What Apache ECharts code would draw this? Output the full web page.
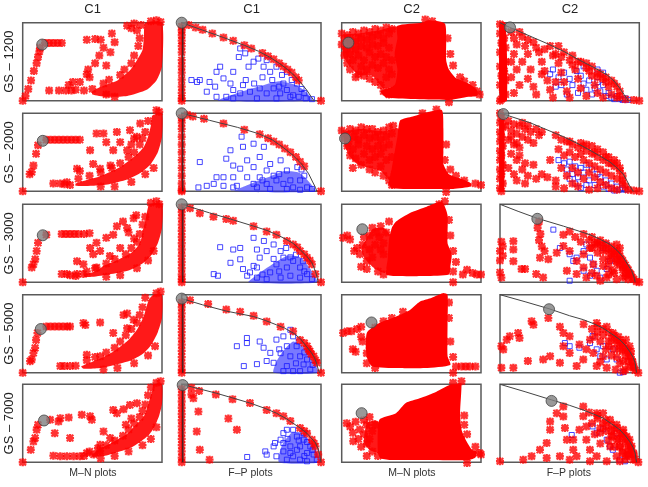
<!DOCTYPE html>
<html>
<head>
<meta charset="utf-8">
<script src="https://cdn.jsdelivr.net/npm/echarts@6/dist/echarts.min.js"></script>
<style>html,body{margin:0;background:#fff}#chart{width:648px;height:487px}</style>
</head>
<body>
<div id="chart"></div>
<script>
'use strict';

var colTitles = ['C1', 'C1', 'C2', 'C2'];
var plotNames = ['M\u2013N plots', 'F\u2013P plots', 'M\u2013N plots', 'F\u2013P plots'];
var rowNames = ['GS \u2013 1200', 'GS \u2013 2000', 'GS \u2013 3000', 'GS \u2013 5000', 'GS \u2013 7000'];

/****** grey markers, one per panel (M-N C1, F-P C1, M-N C2, F-P C2) ******/
var dots1 = [[14, 72], [0, 100], [4.8, 74.4], [7.2, 94]];
var dots2 = [[14.4, 64.7], [0, 100], [2.4, 67.7], [2.4, 99]];
var dots3 = [[14.4, 60.3], [0, 100], [14.8, 68], [26.8, 81.4]];
var dots4 = [[13, 56], [0, 95], [21.4, 64.4], [35.2, 81.4]];
var dots5 = [[15.3, 53.6], [0.7, 99], [14.3, 63], [37, 78.7]];

/****** row 1 : GS 1200 ******/
var mnC1Red1 = [[0,0],[2,6],[4,15],[6,26],[8,38],[10,48],[11,56],[12,63],[12.5,68],[16,74],[19,74],[22,74],[25,74],[28,74],
  [19,13],[26,13],[31,13],[35,13],[38,14],[33,20],[41,24],[46,34],[48,30],[47,40],[52,48],[55,58],[58,68],[56,78],[46,78],
  [52,79],[64,86],[66,75],[63,62],[60,45],[36,24],[44,13],[50,15],[58,22],[62,27],[70,33],[73,40],[78,48],[80,58],[83,70],
  [84,80],[82,90],[78,93],[75,96],[80,99],[92,102],[85,97],[60,8],[66,5],[96,103],[99,101]];
var mnC1Core1 = [[50,12],[56,18],[68,26],[77,39],[82,52],[86,65],[87,82],[88,100],[100,100],[100,44],[96,26],[89,14],[75,6],[60,5],[50,8]];
var fpC1Curve1 = [[0,100],[15,90.5],[30,81],[45,71],[55,63.5],[63,56],[70,48],[76,40],[81,32],[86,22],[90,13],[93,5],[95,0]];
var fpC1Red1 = [[5,97],[10,94],[15,91],[22,86],[30,81],[37,77],[45,71],[50,67],[58,61],[62,57],[66,53],[70,48],[73,44],[76,40],
  [79,36],[82,30],[84,26],[100,0],[0,95],[0,90],[0,84],[0,77],[0,70],[0,62],[0,52],[0,44],[0,36],[0,27],[0,18],[0,10],[0,3],[0,0]];
var fpC1Blue1 = [[7,26.5],[11,24],[13,26.5],[20,24],[25,37],[27.6,43.6],[24,18],[30,28.6],[35,22],[37,37],[41,56],[42,67],
  [45.6,60.7],[48,43.6],[51.6,50],[55,54],[58.8,43.6],[61,52],[63.5,37],[68,43.6],[72,33],[75.5,37],[79,26.5],[82.7,22],
  [37,13.7],[42,9.4],[49,11.5],[56,15.8],[61,9.4],[66,15.8],[70.7,9.4],[75.5,13.7],[80,7],[84,5],[89,3],[93.5,2],[25,5],
  [32,5],[18,11.5],[52,22],[46,26.5],[65,26.5],[73,22],[78,5],[54,3],[68,3],[37,3],[86,15],[88,10],[44,20],[58,30],[70,18]];
var fpC1Core1 = [[26,0],[40,10],[55,18],[70,25],[82,20],[90,10],[94,0]];
var mnC2Red1 = [[0,86],[2,80],[4,84],[8,88],[12,86],[16,90],[20,88],[24,92],[28,90],[32,94],[36,92],[6,78],[10,76],[14,80],
  [18,78],[22,82],[26,84],[30,80],[34,86],[0,72],[3,66],[6,70],[10,66],[14,70],[18,68],[22,72],[26,70],[30,74],[34,68],[2,58],
  [6,60],[12,58],[16,52],[20,62],[24,56],[28,60],[32,56],[36,52],[4,48],[8,52],[14,44],[18,40],[22,46],[26,42],[30,48],[34,40],
  [10,30],[16,32],[20,28],[24,24],[28,20],[32,30],[36,34],[30,12],[34,8],[12,34],[6,40],[76,80],[78,60],[80,45],[85,30],
  [88,25],[94,20],[97,12],[99,8],[77,-2],[60,104],[65,102]];
var mnC2Core1 = [[40,96],[58,100],[62,103],[74,99],[75,78],[75,52],[77,40],[82,29],[91,22],[97,14],[97,6],[91,5],[77,1],[32,4],[28,12],[38,20],[40,40],[38,60],[40,80]];
var mnC2Left1 = [[2,84],[12,86],[26,90],[41,94],[41,22],[30,16],[22,32],[12,33],[5,46],[1,58]];
var fpC2Curve1 = [[0,100],[7,94],[20,84],[33.5,73.5],[46,63],[57,52],[67,43],[77,33],[82,25],[86,16],[89,8],[91,3],[92,0]];
var fpC2Strip1 = [[0,100],[4,100],[5,0],[0,0]];
var fpC2Red1 = [[0,98],[2,92],[0,86],[3,80],[1,74],[4,68],[0,62],[2,56],[4,50],[0,44],[3,38],[1,32],[4,26],[0,20],[2,14],[4,8],
  [1,2],[0,0],[8,88],[10,80],[12,72],[10,60],[8,50],[12,40],[8,30],[14,20],[10,10],[16,82],[18,70],[20,60],[16,50],[22,40],
  [20,28],[24,18],[26,8],[24,75],[28,62],[30,50],[32,38],[34,26],[36,14],[38,4],[36,70],[40,60],[42,48],[44,36],[46,24],
  [48,12],[50,4],[46,62],[50,52],[54,40],[56,28],[58,16],[62,6],[58,50],[62,42],[66,32],[68,20],[70,10],[74,4],[66,44],
  [70,36],[74,28],[78,18],[80,8],[84,4],[90,2],[96,1],[100,0],[72,34],[76,30],[80,26],[84,18],[86,12],[42,70],[52,58],[62,48],
  [14,88],[20,78],[26,68],[32,66],[38,58],[44,56],[52,46],[56,50],[64,38],[70,30],[76,24],[82,22],[86,6],[30,34],[40,24]];
var fpC2Edge1 = [];
var fpC2Blue1 = [[38,40],[42,30],[46,36],[50,28],[52,20],[55,38],[58,32],[60,22],[62,14],[64,26],[66,8],[68,16],[70,24],
  [72,12],[74,20],[76,6],[78,10],[80,4],[82,2],[84,6],[86,2],[88,1],[90,3],[92,1],[70,40],[74,36],[60,44],[44,20],[48,8],
  [56,10],[36,34],[40,18]];

/****** row 2 : GS 2000 ******/
var mnC1Red2 = [[0,0],[6.5,24.6],[7.7,33],[9.6,48],[11,59],[17,66],[20,66],[23,66],[26,66],[29,66],[32,66],[35,66],[38,66],
  [41,66],[22,10],[27,10],[31.7,11.6],[39,29],[41,26],[48.4,52.6],[50.6,35],[53,74],[58,74],[60,63],[67.6,76],[70,63],
  [65,52.6],[75,52.6],[55.6,29],[63,33],[77,78.4],[84.4,87],[80,67.7],[30,9],[34,8],[40,16],[48,20],[56,24],[64,30],[70,36],
  [76,44],[80,50],[84,60],[86,68],[88,76],[90,90],[96,104],[98,102],[56,6],[66,6],[78,12],[88,22],[94,30],[82,70],[78,60],[5,22]];
var mnC1Core2 = [[38,10],[45,14],[55,19],[63,25],[70,31],[77,40],[83,49],[87,57],[90,70],[92,84],[93,97],[100,100],[100,70],[97,50],[92,35],[85,24],[75,15],[62,9],[50,7],[38,7]];
var fpC1Curve2 = [[0,100],[20,91],[40,82],[55,74],[65,66],[73,56],[80,46],[86,35],[91,23],[94,12],[96,5],[97,0]];
var fpC1Red2 = [[4,98],[8,96],[16,93],[30,87],[45,79],[56,73],[62,68],[66,64],[70,60],[74,55],[78,50],[82,44],[85,38],[88,32],
  [100,0],[0,94],[0,88],[0,80],[0,70],[0,60],[0,50],[0,40],[0,30],[0,20],[0,10],[0,2],[0,0]];
var fpC1Blue2 = [[13,37.5],[12,5],[18,7],[23,9.5],[32,41.8],[35,52.6],[37,18],[37,5],[44,57],[47,18],[51.6,61],[51.6,31],
  [54,5],[56,44],[59,57],[61,26.7],[63.5,35],[68,14],[71,39.7],[75.5,26.7],[78,14],[80,5],[83,31],[85,14],[90,5],[93.5,3],
  [43,70],[37,33],[25,18],[30,7],[39.6,7],[51.6,9.5],[61,9.5],[66,20],[73,9.5],[75.5,3],[85,2],[63.5,3],[56,18],[47,39.7],
  [42,29],[30,18],[88,20],[86,28],[70,22],[58,14]];
var fpC1Core2 = [[38,0],[50,10],[62,18],[74,26],[84,24],[91,13],[96,0]];
var mnC2Red2 = [[0,78],[3,74],[6,80],[10,78],[14,82],[18,80],[22,80],[26,76],[30,78],[34,82],[37,84],[2,68],[5,64],[9,70],
  [12,66],[16,72],[20,68],[24,70],[28,66],[32,70],[36,74],[4,58],[8,54],[12,60],[18,58],[22,54],[26,58],[30,56],[34,60],
  [6,46],[10,42],[16,48],[20,40],[24,44],[28,48],[32,40],[36,44],[8,30],[14,34],[20,28],[24,24],[28,32],[30,20],[34,14],
  [36,8],[38,22],[75,60],[74,40],[78,28],[82,20],[88,14],[96,10],[100,8],[75,-1],[68,105],[58,100]];
var mnC2Core2 = [[40,70],[42,91],[51,96],[63,102],[72,104],[73,80],[73,50],[73,35],[77,22],[86,16],[93,10],[93,6],[80,3],[60,3],[36,4],[34,10],[36,30],[38,50]];
var mnC2Left2 = [[2,76],[14,80],[30,77],[41,80],[41,30],[36,12],[28,26],[20,30],[12,34],[6,44],[2,60]];
var fpC2Curve2 = [[0,100],[2.4,99],[21.5,88],[45.5,70],[56,61],[64.6,52.6],[72,45],[79,37.5],[84,30],[88.5,22],[91,14],[93,7],[95.7,0]];
var fpC2Strip2 = [[0,100],[3,100],[3,0],[0,0]];
var fpC2Red2 = [[0,100],[1,94],[0,88],[2,82],[0,76],[1,70],[0,64],[2,58],[0,52],[1,46],[0,40],[2,34],[0,28],[1,22],[0,16],
  [2,10],[0,4],[1,0],[6,90],[10,86],[14,84],[18,80],[8,78],[12,74],[16,70],[20,66],[6,66],[10,60],[14,56],[22,76],[24,62],
  [28,72],[8,48],[12,40],[6,30],[16,28],[20,20],[26,16],[30,22],[34,18],[24,34],[12,14],[18,10],[40,72],[44,66],[48,64],
  [52,60],[56,56],[60,58],[42,54],[46,46],[50,50],[54,44],[58,48],[62,52],[66,48],[70,44],[74,40],[78,36],[82,32],[86,26],
  [88,20],[60,40],[64,36],[68,32],[72,28],[76,24],[80,20],[84,16],[88,10],[90,6],[64,24],[68,18],[72,12],[76,8],[80,4],
  [84,2],[92,2],[96,1],[100,0],[52,30],[56,24],[60,16],[44,30],[48,20],[52,10],[40,14],[36,40],[50,64],[58,62],[66,58],
  [70,54],[74,50],[78,44],[82,40],[84,36],[40,6],[56,6],[64,2],[70,4],[46,4],[4,84],[8,70],[12,62],[16,88],[20,84],[26,80],
  [30,76],[14,46],[18,36],[10,22],[62,60],[68,50],[76,44],[80,36],[86,30],[88,14]];
var fpC2Edge2 = [];
var fpC2Blue2 = [[42,40],[46,36],[50,38],[54,32],[58,30],[62,34],[66,28],[70,22],[60,24],[56,18],[64,14],[68,8],[72,18],
  [76,14],[80,10],[84,6],[88,4],[90,2],[86,2],[82,1],[78,3],[74,6],[50,16],[54,10],[58,4],[62,8],[48,28],[52,22]];

/****** row 3 : GS 3000 ******/
var mnC1Red3 = [[0,0],[6.5,19],[7.7,23],[9,29.5],[10,40],[11,50.6],[17,61],[28,62],[31,62],[34,62],[37,62],[40,62],[44,62],
  [48,63],[28,10.5],[31.6,10.5],[39,10.5],[43.6,10.5],[39,27],[48.4,44],[50.6,36],[53,50.6],[55.6,40],[60,57],[65,61],
  [67.6,71.7],[72,78],[79.6,82],[75,69.6],[81.5,86],[43.6,23],[62.6,33.8],[53,19],[34,9],[38,8],[46,14],[52,18],[60,24],
  [66,30],[74,36],[78,44],[82,52],[84,62],[86,74],[88,84],[92,102],[96,104],[98,100],[60,7],[70,9],[82,18],[90,28],[94,40],
  [80,56],[76,64],[70,44]];
var mnC1Core3 = [[44,10],[52,14],[58,21],[65,26],[72,32],[78,38],[82,45],[85,55],[86,65],[88,78],[89,88],[91,100],[100,100],[100,70],[97,50],[92,34],[86,24],[76,15],[62,10],[50,7],[44,7]];
var fpC1Curve3 = [[0,100],[20,89],[37,80],[51.6,72],[62,66],[73,57],[80,50],[85,42],[90,33],[93.5,25],[96,14],[97,8],[98,0]];
var fpC1Red3 = [[6,95],[13,88.6],[22.8,84],[32,81],[37,79],[51.6,71.7],[61,65],[68,61],[75.5,53],[80,48.5],[85,40],[90,31.6],
  [93.5,23],[96,10.5],[0,96],[0,90],[0,82],[0,74],[0,66],[0,58],[0,50],[0,42],[0,34],[0,26],[0,18],[0,10],[0,4],[0,0],[100,0],
  [83,45],[88,36],[92,28]];
var fpC1Blue3 = [[27.6,45],[37,42],[42,44],[35,25],[42,29.5],[51.6,57],[54,42],[56,31.6],[51.6,21],[44,17],[23,10.5],[26,8.4],
  [59,53],[61,40],[66,48.5],[71,40],[73,31.6],[68,23],[63.5,12.7],[75.5,19],[80,27.4],[85,19],[90,10.5],[93.5,4],[78,8.4],
  [71,6],[61,4],[54,6],[47,8.4],[85,6],[82,35.4],[87,27],[75,44],[54,19],[49,12.7],[66,30],[78,32],[88,14],[58,10],[70,14]];
var fpC1Core3 = [[48,0],[56,12],[66,24],[76,34],[85,32],[92,18],[97,0]];
var mnC2Red3 = [[1,57],[4,60],[6,55],[9,40],[11,44],[15,48],[18,27],[14,20],[22,70],[20,60],[25,64],[27,58],[24,48],[28,42],
  [30,36],[20,42],[13,36],[30,10],[26,14],[18,17],[22,32],[30,50],[32,64],[28,72],[34,78],[16,58],[77,80],[78,60],[80,40],
  [82,26],[80,14],[87,10],[90,16],[94,12],[97,10],[100,10],[80,0],[74,104],[70,100]];
var mnC2Core3 = [[34,55],[36,70],[39,78],[49,89],[61,97],[72,103],[76,86],[76,50],[79,36],[78,20],[77,10],[60,8],[40,8],[32,10],[33,30]];
var mnC2Left3 = [[18,56],[22,68],[30,70],[35,60],[34,30],[31,12],[22,20],[16,32],[14,44]];
var fpC2Curve3 = [[0,100],[13,91],[26.8,82],[45.5,72],[56,66],[64.6,61],[72,55],[79,48.5],[84,41],[88.5,32],[92,22],[94.5,15],[96.5,5],[97,0]];
var fpC2Strip3 = [];
var fpC2Red3 = [[1,52],[2,46],[0,40],[2,34],[0,28],[9.6,52.7],[9.6,42],[9.6,27],[0,12.7],[1,6],[15.5,17],[18,17],[28,78],[27,70],
  [29,62],[28,54],[30,46],[32,40],[28.7,31.6],[26,10.5],[31,6],[34.7,29.5],[40.7,38],[45.5,61],[50,65],[45.5,46.4],[50,40],
  [48,14.8],[55,27.4],[60,36],[64.6,44],[69.4,48.5],[74,40],[79,36],[83.7,27.4],[88.5,19],[93,10.5],[98,1],[55,10.5],[62,6],
  [69.4,8.4],[76.6,6],[83.7,4],[88.5,6],[60,19],[67,23],[74,21],[81,14.8],[83.7,48.5],[60,62],[66,58],[72,54],[76,50],[80,46],
  [84,40],[86,34],[88,28],[90,22],[92,16],[94,10],[96,4],[100,0],[86,44],[82,36],[78,28],[90,12]];
var fpC2Edge3 = [[70,52],[74,48],[78,44],[82,40],[85,36],[87,30],[89,24],[91,18],[93,12],[95,6],[80,38],[84,30],[86,22],[88,16],
  [90,8],[76,42],[72,46],[68,50],[64,54],[92,4],[80,30],[84,24],[82,12],[78,20],[74,30],[70,38],[66,44],[58,52],[54,58],[66,12],[72,2],[78,10]];
var fpC2Blue3 = [[38.3,67.5],[43,44],[50,36],[55,31.6],[52.6,27.4],[60,40],[62,48.5],[64.6,31.6],[67,23],[69.4,14.8],[74,44],
  [76.6,48.5],[79,27.4],[76.6,17],[60,14.8],[64.6,8.4],[50,2],[72,6]];

/****** row 4 : GS 5000 ******/
var mnC1Red4 = [[0,0],[5.3,14.8],[6.5,17],[7.7,25.4],[8.9,31.8],[9.6,42],[10.6,50.8],[17,59.3],[20,59.3],[23,59.3],[26,59.3],
  [29,59.3],[32,59.3],[34,59.3],[43.6,63.6],[45,61],[55.6,64.4],[27,8.5],[30,8.5],[34,8.5],[38,9],[72.4,74],[75,76],[79.6,68],
  [65,51],[75,57],[55.6,21],[46,23],[46,16],[52,20],[60,26],[66,32],[70,40],[74,48],[78,56],[82,64],[84,74],[86,84],[88,96],
  [96,102],[99,104],[58,4],[68,6],[80,12],[90,22],[95,34]];
var mnC1Core4 = [[42,8],[50,14],[58,20],[66,28],[72,36],[77,44],[82,55],[85,65],[87,73],[89,85],[91,95],[94,100],[100,100],[100,70],[97,52],[92,35],[86,24],[78,16],[66,10],[55,6],[44,5]];
var fpC1Curve4 = [[0,95],[15,87],[32,79],[51.6,72],[60,67],[68,61.4],[74,57],[80,51],[85,44],[89.4,34],[93,26],[95.4,19],[97,11],[98,4],[99,0]];
var fpC1Red4 = [[6,93],[19,88],[32,81],[42,78],[51.6,73],[61,65.7],[71,59],[80,53],[85,42],[90,34],[92,27.5],[94.7,21],[97,12.7],
  [100,0],[88,38],[91,30],[93,24],[96,16],[0,90],[0,84],[0,76],[0,68],[0,60],[0,52],[0,44],[0,36],[0,28],[0,20],[0,12],[0,4],[0,0]];
var fpC1Blue4 = [[39.6,34],[46.8,44.5],[46.8,38],[56,40],[58.8,32],[63.6,25.4],[61,15],[54,11],[44.6,8.5],[68,42.4],[73,46.6],
  [75.5,34],[78,21],[80,46.6],[75.5,8.5],[85,21],[87.5,10.6],[92.3,4.2],[85,2],[80,2],[73,2],[82.5,34],[90,17],[78,55],[71,25],
  [66,12.7],[84,40],[88,26],[94,10],[70,30],[82,12]];
var fpC1Core4 = [[66,0],[68,14],[73,28],[80,40],[87,34],[94,16],[98,0]];
var mnC2Red4 = [[1,51],[4,53],[7,53],[11,56],[14,59],[8,30],[10,27],[15,40],[18,25],[20,32],[14,46],[24,58],[30,66],[36,70],
  [44,78],[77,90],[77,70],[78,40],[80,20],[82,8],[86,8],[89,8],[92,8],[96,8],[80,0],[18,12],[24,6]];
var mnC2Core4 = [[18,20],[18,51],[27,63.6],[39,72],[49,80.5],[56,91],[63,95],[72.6,102],[76,100],[76,63],[76,21],[78,10],[60,6],[40,6],[22,8]];
var mnC2Left4 = [];
var fpC2Curve4 = [[0,100],[18,91],[35.2,82],[50,73],[59.8,68],[67,63],[74,57],[80,50],[86,42.4],[90,35],[93,27.5],[95.5,20],[97,12.7],[98,0]];
var fpC2Strip4 = [];
var fpC2Red4 = [[1,34],[2.4,29.7],[1,6.4],[4.8,42.4],[7,46.6],[13,51],[14,44.5],[20,15],[9.6,6.4],[22.7,66],[24,61.4],[34.7,70],
  [31,17],[36,21],[43,59],[45.5,51],[45.5,34],[43,12.7],[50,46.6],[50,25.4],[55,8.5],[59.8,17],[57,36],[64.6,42.4],[67,25.4],
  [69.4,8.5],[74,21],[78.5,34],[83,42.4],[86,29.7],[88.5,15],[93,21],[95.7,6.4],[99.3,0],[76.6,6.4],[83,4],[88.5,2],[81,51],
  [76.6,59],[69.4,63.6],[93,34],[90.4,42.4],[94,27.5],[85,46],[88,38],[91,30],[95,14],[62,30],[72,14],[80,22]];
var fpC2Edge4 = [[70,60],[74,56],[78,52],[82,48],[86,42],[88,38],[90,32],[92,26],[94,20],[95,14],[96,8],[97,3],[80,44],[84,38],
  [86,34],[88,28],[90,22],[92,14],[93,8],[82,30],[84,20],[86,12],[90,4],[78,40],[74,48],[70,52],[66,56],[60,62],[76,30],[72,40],[68,46]];
var fpC2Blue4 = [[46.6,38],[50,34],[57,32],[66.5,47],[69.4,30],[74,34],[76.6,17],[81,30],[83.7,17],[86,0],[88.5,1],[64.6,38],[72,21]];

/****** row 5 : GS 7000 ******/
var mnC1Red5 = [[0,0],[5.8,16],[7.7,26.8],[8.9,31],[10,41.7],[11,48],[19.7,54.5],[25.7,52.3],[27,56.6],[33,57.4],[42.4,61],
  [48.4,59],[49.6,54.5],[23,37.4],[34,31],[58,39.6],[65,67],[72.4,68],[67.6,63],[77,73.6],[82,75.7],[55.6,22.6],[62.8,31],
  [22,8.5],[27,7.7],[31.7,7.7],[36.5,7.7],[41,7.7],[46,12],[51,10],[55.6,14.5],[44,8],[48,14],[54,18],[60,22],[66,28],
  [72,34],[76,42],[80,50],[84,58],[86,66],[88,74],[90,86],[92,96],[96,102],[99,104],[56,5],[66,8],[76,14],[86,22],[92,30],
  [96,45],[78,56],[74,48]];
var mnC1Core5 = [[50,10],[56,18],[63,24],[70,31],[76,38],[80,46],[84,53],[87,59],[89,68],[91,80],[93,92],[94,100],[100,100],[100,75],[98,60],[95,47],[91,36],[85,27],[78,19],[68,13],[58,8],[50,7]];
var fpC1Curve5 = [[0,100],[25,88.5],[49,76],[60,69],[68,63],[75,56],[80,50],[85,44],[90,37],[93,31],[96,25],[98,17],[99,10],[100,0]];
var fpC1Red5 = [[7,95.7],[12.5,91.5],[24.5,87],[36.5,80.8],[49,76],[61,67],[68,63],[73,59],[78,53],[85,44],[90,37],[93.5,29],
  [96,20.4],[98,10],[100,0],[7,87],[8.4,82],[12,65],[10.8,39.6],[13,16],[20,3.4],[33.5,56],[39.6,41.7],[88,40],[95,24],
  [0,94],[0,86],[0,78],[0,70],[0,62],[0,54],[0,46],[0,38],[0,30],[0,22],[0,14],[0,6],[0,0]];
var fpC1Blue5 = [[47,6.8],[60,14],[61,9.8],[66,20.4],[67,24.7],[71,29],[73,37.4],[75.5,41.7],[78,20.4],[82.7,33],[85,20.4],
  [87.5,29],[90,12],[92.3,20.4],[94.7,10],[97,3.4],[80,7.7],[75.5,3.4],[85,3.4],[90,1.3],[78,12],[73,14],[82.7,16],[87.5,37.4],
  [80,41.7],[73,24.7],[68,7.7],[84,28],[90,26],[94,16],[76,30],[88,8]];
var fpC1Core5 = [[70,0],[72,22],[79,38],[86,38],[92,28],[97,14],[99,0]];
var mnC2Red5 = [[3.6,50],[6,46],[10,52],[8,38],[13,42],[16,36],[12,30],[8.3,27],[14,20],[18,24],[20,30],[22,40],[24,48],[18,48],
  [20,58],[16,54],[22,14],[26,8],[18,8],[88,60],[88,48],[90,36],[96,20],[99,12],[100,10],[90,-1],[86,104],[80,102]];
var mnC2Core5 = [[26,12],[27,54.5],[39,63],[46,76],[56,82],[68,90.6],[77.4,99],[84,101],[86,101],[85,63],[86,42],[89,29],[93.6,16],[97,14],[96,6],[91.7,3],[60,3],[36,3],[28,5]];
var mnC2Left5 = [[16,26],[18,50],[24,54],[27,50],[27,12],[20,16]];
var fpC2Curve5 = [[0,100],[18,90.5],[37,80],[50,73],[59.8,67],[67,62],[74,56.6],[80,49.5],[86,41.7],[90,34],[93,27],[95.5,19],[97,12],[98,0]];
var fpC2Strip5 = [];
var fpC2Red5 = [[0,1.3],[16.7,3.4],[22.7,7.7],[28.7,16],[33.5,24.7],[36,41.7],[36,52.3],[40.7,63],[45.5,71.5],[45.5,58.7],
  [46.6,44],[48,29],[52.6,16],[55,7.7],[59.8,59],[62,46],[62,29],[64.6,16],[69.4,7.7],[71.8,38],[74,63],[76.6,46],[79,20.4],
  [81,33],[83.7,7.7],[86,20.4],[88.5,37.4],[90.9,7.7],[93,20.4],[95.7,3.4],[99.3,0],[59.8,71.5],[69.4,63],[79,54.5],[83.7,48],
  [88.5,41.7],[90.9,33],[93,29],[94.5,20.4],[95.7,12],[43,7.7],[33.5,5.5],[50,3.4],[64.6,1.3],[76.6,1.3],[86,1.3],[52.6,29],
  [57,41.7],[85,30],[80,40],[72,24],[88,14],[92,10]];
var fpC2Edge5 = [[64,64],[70,60],[76,54],[80,48],[84,44],[87,38],[90,32],[92,26],[94,18],[96,10],[97,4],[82,42],[86,36],[88,30],
  [90,24],[92,16],[93,10],[80,34],[84,28],[86,20],[88,12],[90,4],[74,50],[70,56],[66,50],[76,40],[72,44],[68,36],[78,28],[82,20]];
var fpC2Blue5 = [[51.5,35],[66.5,46],[69.4,38],[74,42.4],[79,20.4],[81,16],[83.7,37.4],[86,3.4],[89.7,1.3],[76.6,29]];

/****** build panels ******/
var rows = [
  { dots: dots1, mnC1: mnC1Red1, mnC1Core: mnC1Core1, fpC1Curve: fpC1Curve1, fpC1Red: fpC1Red1, fpC1Blue: fpC1Blue1, fpC1Core: fpC1Core1, mnC2: mnC2Red1, mnC2Core: mnC2Core1, mnC2Left: mnC2Left1, fpC2Curve: fpC2Curve1, fpC2Strip: fpC2Strip1, fpC2Red: fpC2Red1.concat(fpC2Edge1), fpC2Blue: fpC2Blue1 },
  { dots: dots2, mnC1: mnC1Red2, mnC1Core: mnC1Core2, fpC1Curve: fpC1Curve2, fpC1Red: fpC1Red2, fpC1Blue: fpC1Blue2, fpC1Core: fpC1Core2, mnC2: mnC2Red2, mnC2Core: mnC2Core2, mnC2Left: mnC2Left2, fpC2Curve: fpC2Curve2, fpC2Strip: fpC2Strip2, fpC2Red: fpC2Red2.concat(fpC2Edge2), fpC2Blue: fpC2Blue2 },
  { dots: dots3, mnC1: mnC1Red3, mnC1Core: mnC1Core3, fpC1Curve: fpC1Curve3, fpC1Red: fpC1Red3, fpC1Blue: fpC1Blue3, fpC1Core: fpC1Core3, mnC2: mnC2Red3, mnC2Core: mnC2Core3, mnC2Left: mnC2Left3, fpC2Curve: fpC2Curve3, fpC2Strip: fpC2Strip3, fpC2Red: fpC2Red3.concat(fpC2Edge3), fpC2Blue: fpC2Blue3 },
  { dots: dots4, mnC1: mnC1Red4, mnC1Core: mnC1Core4, fpC1Curve: fpC1Curve4, fpC1Red: fpC1Red4, fpC1Blue: fpC1Blue4, fpC1Core: fpC1Core4, mnC2: mnC2Red4, mnC2Core: mnC2Core4, mnC2Left: mnC2Left4, fpC2Curve: fpC2Curve4, fpC2Strip: fpC2Strip4, fpC2Red: fpC2Red4.concat(fpC2Edge4), fpC2Blue: fpC2Blue4 },
  { dots: dots5, mnC1: mnC1Red5, mnC1Core: mnC1Core5, fpC1Curve: fpC1Curve5, fpC1Red: fpC1Red5, fpC1Blue: fpC1Blue5, fpC1Core: fpC1Core5, mnC2: mnC2Red5, mnC2Core: mnC2Core5, mnC2Left: mnC2Left5, fpC2Curve: fpC2Curve5, fpC2Strip: fpC2Strip5, fpC2Red: fpC2Red5.concat(fpC2Edge5), fpC2Blue: fpC2Blue5 }
];

var colLeft = [22.7, 181.7, 341.7, 500];
var rowTop = [22.7, 113.3, 204.3, 294.7, 384.3];
var panelW = 139.3, panelH = 78;

// R style asterisk, drawn a little heavy so it blurs like the source
var star = 'path://M3.5,0H6.5V10H3.5Z M0,3.5H10V6.5H0Z M1.8,0L10,8.2L8.2,10L0,1.8Z M8.2,0L10,1.8L1.8,10L0,8.2Z';

var grids = [], xAxes = [], yAxes = [], series = [];

function polygon(idx, pts, color, opacity) {
  return {
    type: 'custom', xAxisIndex: idx, yAxisIndex: idx, silent: true, clip: false, z: 2,
    data: pts.length ? [[0, 0]] : [],
    renderItem: function(params, api) {
      return {
        type: 'polygon',
        shape: { points: pts.map(function(p) { return api.coord(p); }), smooth: 0.2 },
        style: { fill: color, opacity: opacity }
      };
    }
  };
}
function redPts(idx, data) {
  return { type: 'scatter', xAxisIndex: idx, yAxisIndex: idx, clip: false, silent: true, z: 3,
    symbol: star, symbolSize: 8, itemStyle: { color: '#ff0000' }, data: data };
}
function bluePts(idx, data) {
  return { type: 'scatter', xAxisIndex: idx, yAxisIndex: idx, clip: false, silent: true, z: 3,
    symbol: 'rect', symbolSize: 5,
    itemStyle: { color: 'rgba(0,0,0,0)', borderColor: '#1a1aff', borderWidth: 1 }, data: data };
}
function curve(idx, data, color, width) {
  return { type: 'line', xAxisIndex: idx, yAxisIndex: idx, clip: false, silent: true, z: 4,
    showSymbol: false, symbol: 'none', lineStyle: { color: color, width: width }, data: data };
}
function dot(idx, p) {
  return { type: 'scatter', xAxisIndex: idx, yAxisIndex: idx, clip: false, silent: true, z: 5,
    symbol: 'circle', symbolSize: 11,
    itemStyle: { color: '#7f7f7f', borderColor: '#444', borderWidth: 1 }, data: [p] };
}

rows.forEach(function(r, ri) {
  for (var c = 0; c < 4; c++) {
    var idx = ri * 4 + c;
    grids.push({ left: colLeft[c], top: rowTop[ri], width: panelW, height: panelH,
      show: true, borderColor: '#5a5a5a', borderWidth: 1.5, backgroundColor: 'transparent' });
    xAxes.push({ gridIndex: idx, type: 'value', min: 0, max: 100, show: false });
    yAxes.push({ gridIndex: idx, type: 'value', min: 0, max: 100, show: false });
  }
  var b = ri * 4;
  // M-N C1
  series.push(polygon(b, r.mnC1Core, '#ff0000', 0.9));
  series.push(redPts(b, r.mnC1));
  series.push(dot(b, r.dots[0]));
  // F-P C1
  series.push(curve(b + 1, [[0.8, 0], [0.8, r.dots[1][1] - 3]], '#222', 1.2));
  series.push(polygon(b + 1, r.fpC1Core, '#2020ff', 0.6));
  series.push(bluePts(b + 1, r.fpC1Blue));
  series.push(redPts(b + 1, r.fpC1Red));
  series.push(curve(b + 1, r.fpC1Curve, '#444', 1));
  series.push(dot(b + 1, r.dots[1]));
  // M-N C2
  series.push(polygon(b + 2, r.mnC2Left, '#ff0000', 0.9));
  series.push(polygon(b + 2, r.mnC2Core, '#ff0000', 1));
  series.push(redPts(b + 2, r.mnC2));
  series.push(dot(b + 2, r.dots[2]));
  // F-P C2
  series.push(polygon(b + 3, r.fpC2Strip, '#ff0000', 1));
  series.push(bluePts(b + 3, r.fpC2Blue));
  series.push(redPts(b + 3, r.fpC2Red));
  series.push(curve(b + 3, r.fpC2Curve, '#444', 1));
  series.push(dot(b + 3, r.dots[3]));
});

var texts = [];
colTitles.forEach(function(t, c) {
  texts.push({ type: 'text', left: colLeft[c] + panelW / 2 - 8, top: 3,
    style: { text: t, font: '13px "Liberation Sans", Arial, sans-serif', fill: '#222' } });
});
plotNames.forEach(function(t, c) {
  texts.push({ type: 'text', left: colLeft[c] + panelW / 2 - 23, top: 468,
    style: { text: t, font: '10.5px "Liberation Sans", Arial, sans-serif', fill: '#333' } });
});
rowNames.forEach(function(t, ri) {
  texts.push({ type: 'text', x: 9, y: rowTop[ri] + panelH / 2, rotation: Math.PI / 2,
    style: { text: t, font: '13px "Liberation Sans", Arial, sans-serif', fill: '#222', align: 'center', verticalAlign: 'middle' } });
});

var chart = echarts.init(document.getElementById('chart'), null, { renderer: 'canvas' });
chart.setOption({
  animation: false,
  backgroundColor: '#fff',
  grid: grids,
  xAxis: xAxes,
  yAxis: yAxes,
  series: series,
  graphic: texts
});
</script>
</body>
</html>
